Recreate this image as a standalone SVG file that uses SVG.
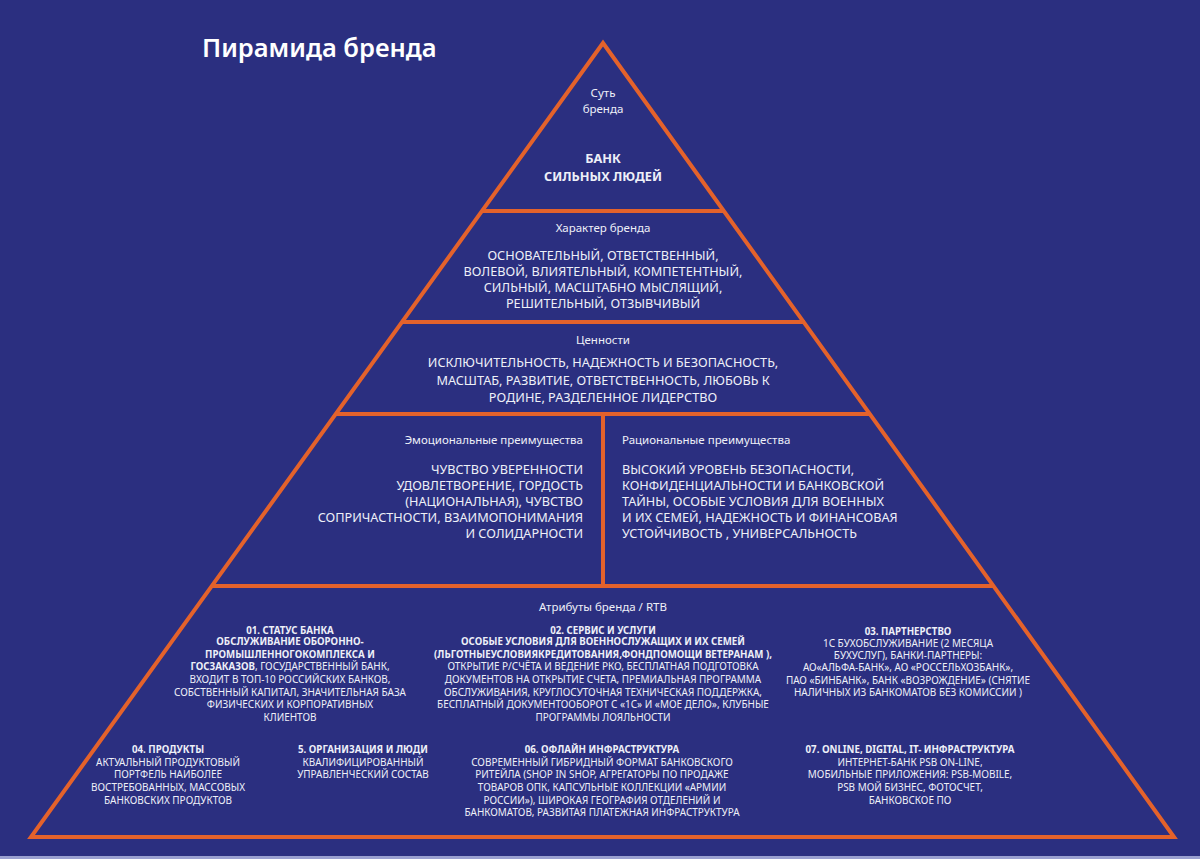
<svg xmlns="http://www.w3.org/2000/svg" width="1200" height="859" viewBox="0 0 1200 859">
<style>
text{font-family:"Noto Sans","Open Sans","Liberation Sans",sans-serif;fill:#eef0f8}
.title{font-size:25.5px;font-weight:600;fill:#ffffff}
.lbl{font-size:11.5px}
.mid{text-anchor:middle}
.end{text-anchor:end}
.big{font-size:12.7px}
.sm{font-size:9.95px}
.sm.b,.sm .b{font-size:9.7px}
.b{font-weight:700}
.line{stroke:#e4622b;stroke-width:4;fill:none;stroke-linejoin:miter}
</style>
<rect x="0" y="0" width="1200" height="859" fill="#2b2f80"/>
<rect x="0" y="856" width="1200" height="3" fill="#9aa0d0"/>
<text class="title" x="202" y="57">Пирамида бренда</text>

<g id="connectors">
<polygon class="line" points="603,43 31,837 1174,837"/>
<line class="line" x1="481" y1="211" x2="725" y2="211"/>
<line class="line" x1="401" y1="322" x2="805" y2="322"/>
<line class="line" x1="335" y1="414" x2="870" y2="414"/>
<line class="line" x1="211" y1="586" x2="994" y2="586"/>
<line class="line" x1="603" y1="414" x2="603" y2="586"/>
</g>

<g id="essence">
<text class="lbl mid" x="603" y="97">Суть</text>
<text class="lbl mid" x="603" y="113">бренда</text>
<text class="big b mid" x="603" y="163">БАНК</text>
<text class="big b mid" x="603" y="181">СИЛЬНЫХ ЛЮДЕЙ</text>
</g>

<g id="character">
<text class="lbl mid" x="603" y="232">Характер бренда</text>
<text class="big mid" x="603" y="260">ОСНОВАТЕЛЬНЫЙ, ОТВЕТСТВЕННЫЙ,</text>
<text class="big mid" x="603" y="276">ВОЛЕВОЙ, ВЛИЯТЕЛЬНЫЙ, КОМПЕТЕНТНЫЙ,</text>
<text class="big mid" x="603" y="292">СИЛЬНЫЙ, МАСШТАБНО МЫСЛЯЩИЙ,</text>
<text class="big mid" x="603" y="308">РЕШИТЕЛЬНЫЙ, ОТЗЫВЧИВЫЙ</text>
</g>

<g id="values">
<text class="lbl mid" x="603" y="344">Ценности</text>
<text class="big mid" x="603" y="367">ИСКЛЮЧИТЕЛЬНОСТЬ, НАДЕЖНОСТЬ И БЕЗОПАСНОСТЬ,</text>
<text class="big mid" x="603" y="385">МАСШТАБ, РАЗВИТИЕ, ОТВЕТСТВЕННОСТЬ, ЛЮБОВЬ К</text>
<text class="big mid" x="603" y="402">РОДИНЕ, РАЗДЕЛЕННОЕ ЛИДЕРСТВО</text>
</g>

<g id="emotional">
<text class="lbl end" x="583" y="444">Эмоциональные преимущества</text>
<text class="big end" x="583" y="474">ЧУВСТВО УВЕРЕННОСТИ</text>
<text class="big end" x="583" y="490">УДОВЛЕТВОРЕНИЕ, ГОРДОСТЬ</text>
<text class="big end" x="583" y="506">(НАЦИОНАЛЬНАЯ), ЧУВСТВО</text>
<text class="big end" x="583" y="522">СОПРИЧАСТНОСТИ, ВЗАИМОПОНИМАНИЯ</text>
<text class="big end" x="583" y="538">И СОЛИДАРНОСТИ</text>
</g>

<g id="rational">
<text class="lbl" x="622" y="444">Рациональные преимущества</text>
<text class="big" x="622" y="474">ВЫСОКИЙ УРОВЕНЬ БЕЗОПАСНОСТИ,</text>
<text class="big" x="622" y="490">КОНФИДЕНЦИАЛЬНОСТИ И БАНКОВСКОЙ</text>
<text class="big" x="622" y="506">ТАЙНЫ, ОСОБЫЕ УСЛОВИЯ ДЛЯ ВОЕННЫХ</text>
<text class="big" x="622" y="522">И ИХ СЕМЕЙ, НАДЕЖНОСТЬ И ФИНАНСОВАЯ</text>
<text class="big" x="622" y="538">УСТОЙЧИВОСТЬ , УНИВЕРСАЛЬНОСТЬ</text>
</g>

<g id="attributes">
<text class="lbl mid" x="603" y="611">Атрибуты бренда / RTB</text>
</g>

<g id="status">
<text class="sm mid b" x="290" y="634">01. СТАТУС БАНКА</text>
<text class="sm mid b" x="290" y="645">ОБСЛУЖИВАНИЕ ОБОРОННО-</text>
<text class="sm mid b" x="290" y="658">ПРОМЫШЛЕННОГОКОМПЛЕКСА И</text>
<text class="sm mid" x="290" y="670"><tspan class="b">ГОСЗАКАЗОВ</tspan>, ГОСУДАРСТВЕННЫЙ БАНК,</text>
<text class="sm mid" x="290" y="683">ВХОДИТ В ТОП-10 РОССИЙСКИХ БАНКОВ,</text>
<text class="sm mid" x="290" y="696">СОБСТВЕННЫЙ КАПИТАЛ, ЗНАЧИТЕЛЬНАЯ БАЗА</text>
<text class="sm mid" x="290" y="708">ФИЗИЧЕСКИХ И КОРПОРАТИВНЫХ</text>
<text class="sm mid" x="290" y="721">КЛИЕНТОВ</text>
</g>

<g id="service">
<text class="sm mid b" x="603" y="634">02. СЕРВИС И УСЛУГИ</text>
<text class="sm mid b" x="603" y="645">ОСОБЫЕ УСЛОВИЯ ДЛЯ ВОЕННОСЛУЖАЩИХ И ИХ СЕМЕЙ</text>
<text class="sm mid b" x="603" y="658">(ЛЬГОТНЫЕУСЛОВИЯКРЕДИТОВАНИЯ,ФОНДПОМОЩИ ВЕТЕРАНАМ ),</text>
<text class="sm mid" x="603" y="670">ОТКРЫТИЕ Р/СЧЁТА И ВЕДЕНИЕ РКО, БЕСПЛАТНАЯ ПОДГОТОВКА</text>
<text class="sm mid" x="603" y="683">ДОКУМЕНТОВ НА ОТКРЫТИЕ СЧЕТА, ПРЕМИАЛЬНАЯ ПРОГРАММА</text>
<text class="sm mid" x="603" y="696">ОБСЛУЖИВАНИЯ, КРУГЛОСУТОЧНАЯ ТЕХНИЧЕСКАЯ ПОДДЕРЖКА,</text>
<text class="sm mid" x="603" y="708">БЕСПЛАТНЫЙ ДОКУМЕНТООБОРОТ С «1С» И «МОЕ ДЕЛО», КЛУБНЫЕ</text>
<text class="sm mid" x="603" y="721">ПРОГРАММЫ ЛОЯЛЬНОСТИ</text>
</g>

<g id="partnership">
<text class="sm mid b" x="908" y="635">03. ПАРТНЕРСТВО</text>
<text class="sm mid" x="908" y="647">1С БУХОБСЛУЖИВАНИЕ (2 МЕСЯЦА</text>
<text class="sm mid" x="908" y="659">БУХУСЛУГ), БАНКИ-ПАРТНЕРЫ:</text>
<text class="sm mid" x="908" y="671">АО«АЛЬФА-БАНК», АО «РОССЕЛЬХОЗБАНК»,</text>
<text class="sm mid" x="908" y="684">ПАО «БИНБАНК», БАНК «ВОЗРОЖДЕНИЕ» (СНЯТИЕ</text>
<text class="sm mid" x="908" y="696">НАЛИЧНЫХ ИЗ БАНКОМАТОВ БЕЗ КОМИССИИ )</text>
</g>

<g id="products">
<text class="sm mid b" x="168" y="753">04. ПРОДУКТЫ</text>
<text class="sm mid" x="168" y="766">АКТУАЛЬНЫЙ ПРОДУКТОВЫЙ</text>
<text class="sm mid" x="168" y="778">ПОРТФЕЛЬ НАИБОЛЕЕ</text>
<text class="sm mid" x="168" y="791">ВОСТРЕБОВАННЫХ, МАССОВЫХ</text>
<text class="sm mid" x="168" y="804">БАНКОВСКИХ ПРОДУКТОВ</text>
</g>

<g id="people">
<text class="sm mid b" x="363" y="753">5. ОРГАНИЗАЦИЯ И ЛЮДИ</text>
<text class="sm mid" x="363" y="766">КВАЛИФИЦИРОВАННЫЙ</text>
<text class="sm mid" x="363" y="778">УПРАВЛЕНЧЕСКИЙ СОСТАВ</text>
</g>

<g id="offline">
<text class="sm mid b" x="602" y="753">06. ОФЛАЙН ИНФРАСТРУКТУРА</text>
<text class="sm mid" x="602" y="766">СОВРЕМЕННЫЙ ГИБРИДНЫЙ ФОРМАТ БАНКОВСКОГО</text>
<text class="sm mid" x="602" y="778">РИТЕЙЛА (SHOP IN SHOP, АГРЕГАТОРЫ ПО ПРОДАЖЕ</text>
<text class="sm mid" x="602" y="791">ТОВАРОВ ОПК, КАПСУЛЬНЫЕ КОЛЛЕКЦИИ «АРМИИ</text>
<text class="sm mid" x="602" y="804">РОССИИ»), ШИРОКАЯ ГЕОГРАФИЯ ОТДЕЛЕНИЙ И</text>
<text class="sm mid" x="602" y="816">БАНКОМАТОВ, РАЗВИТАЯ ПЛАТЕЖНАЯ ИНФРАСТРУКТУРА</text>
</g>

<g id="online">
<text class="sm mid b" x="910" y="753">07. ONLINE, DIGITAL, IT- ИНФРАСТРУКТУРА</text>
<text class="sm mid" x="910" y="766">ИНТЕРНЕТ-БАНК PSB ON-LINE,</text>
<text class="sm mid" x="910" y="778">МОБИЛЬНЫЕ ПРИЛОЖЕНИЯ: PSB-MOBILE,</text>
<text class="sm mid" x="910" y="791">PSB МОЙ БИЗНЕС, ФОТОСЧЕТ,</text>
<text class="sm mid" x="910" y="804">БАНКОВСКОЕ ПО</text>
</g>
</svg>
